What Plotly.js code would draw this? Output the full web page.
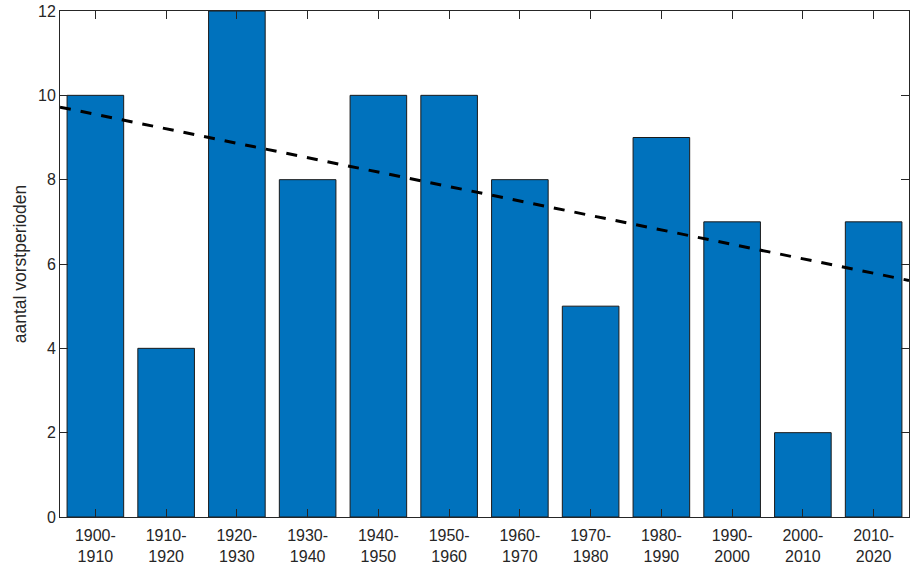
<!DOCTYPE html>
<html>
<head>
<meta charset="utf-8">
<script src="https://cdn.plot.ly/plotly-3.0.1.min.js"></script>
<style>html,body{margin:0;padding:0;background:#fff;}#chart{width:914px;height:566px;}</style>
</head>
<body>
<div id="chart"></div>
<script>
const categories = ["1900-<br>1910","1910-<br>1920","1920-<br>1930","1930-<br>1940","1940-<br>1950","1950-<br>1960","1960-<br>1970","1970-<br>1980","1980-<br>1990","1990-<br>2000","2000-<br>2010","2010-<br>2020"];
const positions = [1,2,3,4,5,6,7,8,9,10,11,12];
const counts = [10,4,12,8,10,10,8,5,9,7,2,7];
const trendX = [0.5, 12.5];
const trendY = [9.72, 5.61];
const yTicks = [0,2,4,6,8,10,12];

const font = {family: "Liberation Sans, Arial, sans-serif", color: "#262626"};

const data = [
  {type: "bar", x: positions, y: counts, width: 0.8,
   marker: {color: "#0072BD", line: {color: "#1a1a1a", width: 1}},
   hoverinfo: "x+y", showlegend: false},
  {type: "scatter", mode: "lines", x: trendX, y: trendY,
   line: {color: "#000000", width: 3, dash: "11px,10px"}, showlegend: false}
];

const layout = {
  width: 914, height: 566,
  margin: {l: 60, r: 5, t: 11, b: 49},
  paper_bgcolor: "#fff", plot_bgcolor: "#fff",
  font: Object.assign({size: 16}, font),
  xaxis: {range: [0.5, 12.5], tickvals: positions, ticktext: categories,
    ticks: "inside", ticklen: 8, tickcolor: "#262626", tickwidth: 1,
    showline: true, linecolor: "#262626", linewidth: 1, mirror: "ticks",
    showgrid: false, zeroline: false, ticklabelstandoff: 4,
    tickfont: Object.assign({size: 16}, font)},
  yaxis: {range: [0, 12], tickvals: yTicks,
    ticks: "inside", ticklen: 8, tickcolor: "#262626", tickwidth: 1,
    showline: true, linecolor: "#262626", linewidth: 1, mirror: "ticks",
    showgrid: false, zeroline: false, tickfont: Object.assign({size: 16}, font),
    title: {text: "aantal vorstperioden", font: Object.assign({size: 17.5}, font), standoff: 6}},
  bargap: 0.2
};

Plotly.newPlot("chart", data, layout, {displayModeBar: false, staticPlot: true});
</script>
</body>
</html>
